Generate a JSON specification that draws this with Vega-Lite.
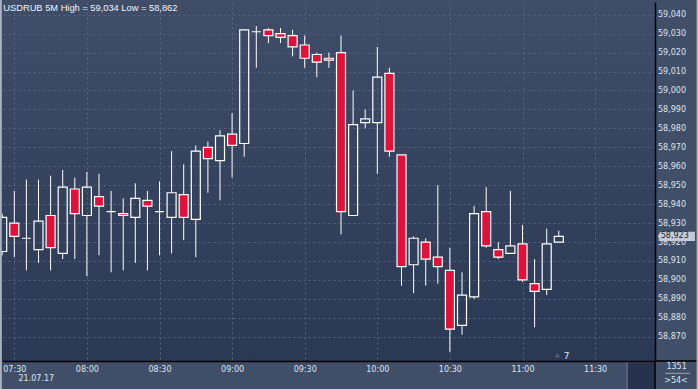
{
  "$schema": "https://vega.github.io/schema/vega-lite/v6.json",
  "width": 653,
  "height": 359,
  "autosize": {"type": "none"},
  "padding": {"left": 2, "top": 2, "right": 43, "bottom": 28},
  "background": "#404e68",
  "view": {"fill": {"gradient": "linear", "x1": 0, "y1": 0, "x2": 0, "y2": 1, "stops": [{"offset": 0, "color": "#3f4d68"}, {"offset": 1, "color": "#2b3853"}]}, "stroke": null},
  "config": {
    "locale": {"number": {"decimal": ",", "thousands": "\u00a0", "grouping": [3], "currency": ["", ""]}},
    "font": "DejaVu Sans",
    "axis": {"labelFont": "DejaVu Sans", "labelFontSize": 8, "labelColor": "#dde6f3", "gridColor": "#56657f", "gridDash": [2, 3], "gridWidth": 1, "domainColor": "#000000", "domainWidth": 1.5, "ticks": false, "labelOverlap": false, "labelFlush": false},
    "axisY": {"labelOverlap": false, "labelSeparation": -20},
    "axisQuantitative": {"labelOverlap": false}
  },
  "datasets": {
    "candles": [
      {"t": "2017-07-21T07:25:00", "open": 58.915, "high": 58.935, "low": 58.913, "close": 58.933},
      {"t": "2017-07-21T07:30:00", "open": 58.930, "high": 58.947, "low": 58.912, "close": 58.923},
      {"t": "2017-07-21T07:35:00", "open": 58.922, "high": 58.953, "low": 58.905, "close": 58.922},
      {"t": "2017-07-21T07:40:00", "open": 58.916, "high": 58.953, "low": 58.909, "close": 58.931},
      {"t": "2017-07-21T07:45:00", "open": 58.934, "high": 58.955, "low": 58.905, "close": 58.917},
      {"t": "2017-07-21T07:50:00", "open": 58.914, "high": 58.958, "low": 58.911, "close": 58.949},
      {"t": "2017-07-21T07:55:00", "open": 58.948, "high": 58.954, "low": 58.911, "close": 58.935},
      {"t": "2017-07-21T08:00:00", "open": 58.934, "high": 58.957, "low": 58.902, "close": 58.949},
      {"t": "2017-07-21T08:05:00", "open": 58.944, "high": 58.956, "low": 58.913, "close": 58.939},
      {"t": "2017-07-21T08:10:00", "open": 58.936, "high": 58.947, "low": 58.904, "close": 58.936},
      {"t": "2017-07-21T08:15:00", "open": 58.935, "high": 58.943, "low": 58.905, "close": 58.934},
      {"t": "2017-07-21T08:20:00", "open": 58.933, "high": 58.951, "low": 58.909, "close": 58.943},
      {"t": "2017-07-21T08:25:00", "open": 58.942, "high": 58.947, "low": 58.905, "close": 58.939},
      {"t": "2017-07-21T08:30:00", "open": 58.936, "high": 58.952, "low": 58.913, "close": 58.936},
      {"t": "2017-07-21T08:35:00", "open": 58.933, "high": 58.968, "low": 58.914, "close": 58.946},
      {"t": "2017-07-21T08:40:00", "open": 58.945, "high": 58.961, "low": 58.921, "close": 58.933},
      {"t": "2017-07-21T08:45:00", "open": 58.932, "high": 58.971, "low": 58.912, "close": 58.968},
      {"t": "2017-07-21T08:50:00", "open": 58.970, "high": 58.973, "low": 58.946, "close": 58.964},
      {"t": "2017-07-21T08:55:00", "open": 58.963, "high": 58.979, "low": 58.942, "close": 58.976},
      {"t": "2017-07-21T09:00:00", "open": 58.977, "high": 58.988, "low": 58.954, "close": 58.971},
      {"t": "2017-07-21T09:05:00", "open": 58.972, "high": 59.032, "low": 58.965, "close": 59.032},
      {"t": "2017-07-21T09:10:00", "open": 59.031, "high": 59.034, "low": 59.012, "close": 59.031},
      {"t": "2017-07-21T09:15:00", "open": 59.032, "high": 59.033, "low": 59.025, "close": 59.029},
      {"t": "2017-07-21T09:20:00", "open": 59.030, "high": 59.033, "low": 59.025, "close": 59.028},
      {"t": "2017-07-21T09:25:00", "open": 59.029, "high": 59.032, "low": 59.018, "close": 59.023},
      {"t": "2017-07-21T09:30:00", "open": 59.024, "high": 59.029, "low": 59.012, "close": 59.017},
      {"t": "2017-07-21T09:35:00", "open": 59.019, "high": 59.020, "low": 59.007, "close": 59.015},
      {"t": "2017-07-21T09:40:00", "open": 59.017, "high": 59.020, "low": 59.012, "close": 59.016},
      {"t": "2017-07-21T09:45:00", "open": 59.020, "high": 59.029, "low": 58.924, "close": 58.936},
      {"t": "2017-07-21T09:50:00", "open": 58.934, "high": 59.000, "low": 58.934, "close": 58.982},
      {"t": "2017-07-21T09:55:00", "open": 58.983, "high": 58.990, "low": 58.980, "close": 58.985},
      {"t": "2017-07-21T10:00:00", "open": 58.983, "high": 59.023, "low": 58.956, "close": 59.007},
      {"t": "2017-07-21T10:05:00", "open": 59.009, "high": 59.012, "low": 58.965, "close": 58.968},
      {"t": "2017-07-21T10:10:00", "open": 58.966, "high": 58.966, "low": 58.897, "close": 58.907},
      {"t": "2017-07-21T10:15:00", "open": 58.908, "high": 58.923, "low": 58.893, "close": 58.922},
      {"t": "2017-07-21T10:20:00", "open": 58.920, "high": 58.922, "low": 58.897, "close": 58.911},
      {"t": "2017-07-21T10:25:00", "open": 58.912, "high": 58.950, "low": 58.898, "close": 58.907},
      {"t": "2017-07-21T10:30:00", "open": 58.905, "high": 58.917, "low": 58.862, "close": 58.874},
      {"t": "2017-07-21T10:35:00", "open": 58.876, "high": 58.904, "low": 58.871, "close": 58.892},
      {"t": "2017-07-21T10:40:00", "open": 58.891, "high": 58.939, "low": 58.890, "close": 58.935},
      {"t": "2017-07-21T10:45:00", "open": 58.936, "high": 58.949, "low": 58.917, "close": 58.918},
      {"t": "2017-07-21T10:50:00", "open": 58.916, "high": 58.920, "low": 58.911, "close": 58.912},
      {"t": "2017-07-21T10:55:00", "open": 58.914, "high": 58.947, "low": 58.914, "close": 58.918},
      {"t": "2017-07-21T11:00:00", "open": 58.919, "high": 58.929, "low": 58.899, "close": 58.900},
      {"t": "2017-07-21T11:05:00", "open": 58.898, "high": 58.911, "low": 58.875, "close": 58.894},
      {"t": "2017-07-21T11:10:00", "open": 58.895, "high": 58.927, "low": 58.892, "close": 58.919},
      {"t": "2017-07-21T11:15:00", "open": 58.920, "high": 58.926, "low": 58.920, "close": 58.923}
    ]
  },
  "data": {"name": "candles"},
  "encoding": {
    "x": {
      "field": "t", "type": "temporal", "title": null,
      "scale": {"domain": [{"year": 2017, "month": 7, "date": 21, "hours": 7, "minutes": 24, "seconds": 55}, {"year": 2017, "month": 7, "date": 21, "hours": 11, "minutes": 54, "seconds": 45}], "padding": 0, "nice": false},
      "axis": {
        "orient": "bottom", "format": "%H:%M", "grid": true, "labelPadding": 4, "labelAlign": "center", "labelOverlap": false, "labelFlush": false,
        "values": [
          {"year": 2017, "month": 7, "date": 21, "hours": 7, "minutes": 30},
          {"year": 2017, "month": 7, "date": 21, "hours": 8, "minutes": 0},
          {"year": 2017, "month": 7, "date": 21, "hours": 8, "minutes": 30},
          {"year": 2017, "month": 7, "date": 21, "hours": 9, "minutes": 0},
          {"year": 2017, "month": 7, "date": 21, "hours": 9, "minutes": 30},
          {"year": 2017, "month": 7, "date": 21, "hours": 10, "minutes": 0},
          {"year": 2017, "month": 7, "date": 21, "hours": 10, "minutes": 30},
          {"year": 2017, "month": 7, "date": 21, "hours": 11, "minutes": 0},
          {"year": 2017, "month": 7, "date": 21, "hours": 11, "minutes": 30}
        ],
        "title": "21.07.17", "titleFont": "DejaVu Sans", "titleFontSize": 8, "titleFontWeight": "normal", "titleColor": "#dde6f3",
        "titleAnchor": null, "titleAlign": "left", "titleBaseline": "top", "titleX": 16, "titleY": 13, "titleAngle": 0
      }
    },
    "y": {
      "field": "high", "type": "quantitative", "title": null,
      "scale": {"domain": [58.8572, 59.0467], "nice": false, "zero": false},
      "axis": {
        "orient": "right", "grid": true, "labelPadding": 2.5, "labelAlign": "left", "labelBaseline": "middle", "format": ".3f", "labelOverlap": false, "labelFlush": false, "labelBound": false,
        "values": [58.87, 58.88, 58.89, 58.9, 58.91, 58.92, 58.93, 58.94, 58.95, 58.96, 58.97, 58.98, 58.99, 59.0, 59.01, 59.02, 59.03, 59.04]
      }
    }
  },
  "layer": [
    {
      "transform": [{"filter": "datum.close >= datum.open"}],
      "mark": {"type": "rule", "color": "#ffffff", "strokeWidth": 1},
      "encoding": {"y": {"field": "high", "type": "quantitative"}, "y2": {"field": "close"}}
    },
    {
      "transform": [{"filter": "datum.close >= datum.open"}],
      "mark": {"type": "rule", "color": "#ffffff", "strokeWidth": 1},
      "encoding": {"y": {"field": "open", "type": "quantitative"}, "y2": {"field": "low"}}
    },
    {
      "transform": [{"filter": "datum.close < datum.open"}],
      "mark": {"type": "rule", "color": "#ffffff", "strokeWidth": 1},
      "encoding": {"y": {"field": "high", "type": "quantitative"}, "y2": {"field": "open"}}
    },
    {
      "transform": [{"filter": "datum.close < datum.open"}],
      "mark": {"type": "rule", "color": "#ffffff", "strokeWidth": 1},
      "encoding": {"y": {"field": "close", "type": "quantitative"}, "y2": {"field": "low"}}
    },
    {
      "mark": {"type": "bar", "size": 9, "stroke": "#ffffff", "strokeWidth": 1.2},
      "encoding": {
        "y": {"field": "open", "type": "quantitative"},
        "y2": {"field": "close"},
        "fill": {"condition": {"test": "datum.close < datum.open", "value": "#dc143c"}, "value": "transparent"}
      }
    },
    {
      "transform": [{"filter": "datum.t == time(datetime(2017, 6, 21, 11, 15))"}],
      "mark": {"type": "point", "shape": "M -1 0 L -0.88 -0.25 L 1 -0.25 L 1 0.25 L -0.88 0.25 Z", "size": 1369, "filled": true, "fill": "#c6cbd3", "strokeWidth": 0, "opacity": 1},
      "encoding": {
        "x": {"datum": {"year": 2017, "month": 7, "date": 21, "hours": 12, "minutes": 3, "seconds": 37}, "type": "temporal"},
        "y": {"field": "close", "type": "quantitative"}
      }
    },
    {
      "transform": [{"filter": "datum.t == time(datetime(2017, 6, 21, 11, 15))"}],
      "mark": {"type": "text", "align": "left", "baseline": "middle", "font": "DejaVu Sans", "fontSize": 8, "color": "#1b2232"},
      "encoding": {
        "x": {"datum": {"year": 2017, "month": 7, "date": 21, "hours": 11, "minutes": 57, "seconds": 7}, "type": "temporal"},
        "y": {"field": "close", "type": "quantitative"},
        "text": {"field": "close", "type": "quantitative", "format": ".3f"}
      }
    },
    {
      "transform": [{"filter": "datum.t == time(datetime(2017, 6, 21, 11, 15))"}],
      "mark": {"type": "text", "text": "USDRUB 5M High = 59,034 Low = 58,862", "align": "left", "baseline": "alphabetic", "dx": 1.3, "font": "Liberation Sans", "fontSize": 9.3, "color": "#f2f5fa"},
      "encoding": {
        "x": {"datum": {"year": 2017, "month": 7, "date": 21, "hours": 7, "minutes": 24, "seconds": 55}, "type": "temporal"},
        "y": {"datum": 59.0418, "type": "quantitative"}
      }
    },
    {
      "transform": [{"filter": "datum.t == time(datetime(2017, 6, 21, 11, 15))"}],
      "mark": {"type": "point", "shape": "triangle-up", "size": 28, "filled": true, "color": "#525c6e", "opacity": 1},
      "encoding": {
        "x": {"datum": {"year": 2017, "month": 7, "date": 21, "hours": 11, "minutes": 14, "seconds": 25}, "type": "temporal"},
        "y": {"datum": 58.8604, "type": "quantitative"}
      }
    },
    {
      "transform": [{"filter": "datum.t == time(datetime(2017, 6, 21, 11, 15))"}],
      "mark": {"type": "text", "text": "7", "align": "center", "baseline": "middle", "font": "DejaVu Sans", "fontSize": 9, "color": "#dfe8ff"},
      "encoding": {
        "x": {"datum": {"year": 2017, "month": 7, "date": 21, "hours": 11, "minutes": 18, "seconds": 11}, "type": "temporal"},
        "y": {"datum": 58.8601, "type": "quantitative"}
      }
    },
    {
      "transform": [{"filter": "datum.t == time(datetime(2017, 6, 21, 11, 15))"}],
      "mark": {"type": "rect", "color": "#27334d", "clip": false},
      "encoding": {
        "x": {"datum": {"year": 2017, "month": 7, "date": 21, "hours": 11, "minutes": 43, "seconds": 37}, "type": "temporal"},
        "x2": {"datum": {"year": 2017, "month": 7, "date": 21, "hours": 11, "minutes": 54, "seconds": 45}},
        "y": {"datum": 58.8566, "type": "quantitative"},
        "y2": {"datum": 58.8424}
      }
    },
    {
      "transform": [{"filter": "datum.t == time(datetime(2017, 6, 21, 11, 15))"}],
      "mark": {"type": "rule", "color": "#5d6779", "strokeWidth": 1.5},
      "encoding": {
        "x": {"datum": {"year": 2017, "month": 7, "date": 21, "hours": 11, "minutes": 43, "seconds": 13}, "type": "temporal"},
        "y": {"datum": 58.8566, "type": "quantitative"},
        "y2": {"datum": 58.8424}
      }
    },
    {
      "transform": [{"filter": "datum.t == time(datetime(2017, 6, 21, 11, 15))"}],
      "mark": {"type": "rule", "color": "#000000", "strokeWidth": 1.5},
      "encoding": {
        "x": {"datum": {"year": 2017, "month": 7, "date": 21, "hours": 11, "minutes": 54, "seconds": 45}, "type": "temporal"},
        "x2": {"datum": {"year": 2017, "month": 7, "date": 21, "hours": 12, "minutes": 13}},
        "y": {"datum": 58.8572, "type": "quantitative"}
      }
    },
    {
      "transform": [{"filter": "datum.t == time(datetime(2017, 6, 21, 11, 15))"}],
      "mark": {"type": "rule", "color": "#000000", "strokeWidth": 1.5},
      "encoding": {
        "x": {"datum": {"year": 2017, "month": 7, "date": 21, "hours": 11, "minutes": 54, "seconds": 45}, "type": "temporal"},
        "y": {"datum": 58.8572, "type": "quantitative"},
        "y2": {"datum": 58.840}
      }
    },
    {
      "transform": [{"filter": "datum.t == time(datetime(2017, 6, 21, 11, 15))"}],
      "mark": {"type": "rule", "color": "#9aa5b8", "strokeWidth": 1},
      "encoding": {
        "x": {"datum": {"year": 2017, "month": 7, "date": 21, "hours": 11, "minutes": 58, "seconds": 55}, "type": "temporal"},
        "x2": {"datum": {"year": 2017, "month": 7, "date": 21, "hours": 12, "minutes": 9, "seconds": 13}},
        "y": {"datum": 58.8507, "type": "quantitative"}
      }
    },
    {
      "transform": [{"filter": "datum.t == time(datetime(2017, 6, 21, 11, 15))"}],
      "mark": {"type": "text", "text": "1351", "align": "center", "baseline": "middle", "font": "DejaVu Sans", "fontSize": 8, "color": "#dde6f3"},
      "encoding": {
        "x": {"datum": {"year": 2017, "month": 7, "date": 21, "hours": 12, "minutes": 3, "seconds": 40}, "type": "temporal"},
        "y": {"datum": 58.854, "type": "quantitative"}
      }
    },
    {
      "transform": [{"filter": "datum.t == time(datetime(2017, 6, 21, 11, 15))"}],
      "mark": {"type": "text", "text": ">54<", "align": "center", "baseline": "middle", "font": "DejaVu Sans", "fontSize": 8, "color": "#dde6f3"},
      "encoding": {
        "x": {"datum": {"year": 2017, "month": 7, "date": 21, "hours": 12, "minutes": 3, "seconds": 25}, "type": "temporal"},
        "y": {"datum": 58.8466, "type": "quantitative"}
      }
    },
    {
      "transform": [{"filter": "datum.t == time(datetime(2017, 6, 21, 11, 15))"}],
      "mark": {"type": "rule", "color": "#a9b3c3", "strokeWidth": 2},
      "encoding": {
        "x": {"datum": {"year": 2017, "month": 7, "date": 21, "hours": 7, "minutes": 24, "seconds": 25}, "type": "temporal"},
        "y": {"datum": 59.048, "type": "quantitative"},
        "y2": {"datum": 58.8412}
      }
    },
    {
      "transform": [{"filter": "datum.t == time(datetime(2017, 6, 21, 11, 15))"}],
      "mark": {"type": "rule", "color": "#a9b3c3", "strokeWidth": 2},
      "encoding": {
        "x": {"datum": {"year": 2017, "month": 7, "date": 21, "hours": 7, "minutes": 24, "seconds": 0}, "type": "temporal"},
        "x2": {"datum": {"year": 2017, "month": 7, "date": 21, "hours": 12, "minutes": 13}},
        "y": {"datum": 58.8419, "type": "quantitative"}
      }
    },
    {
      "transform": [{"filter": "datum.t == time(datetime(2017, 6, 21, 11, 15))"}],
      "mark": {"type": "rule", "color": "#a9b3c3", "strokeWidth": 2},
      "encoding": {
        "x": {"datum": {"year": 2017, "month": 7, "date": 21, "hours": 12, "minutes": 12, "seconds": 20}, "type": "temporal"},
        "y": {"datum": 59.048, "type": "quantitative"},
        "y2": {"datum": 58.8412}
      }
    }
  ]
}
